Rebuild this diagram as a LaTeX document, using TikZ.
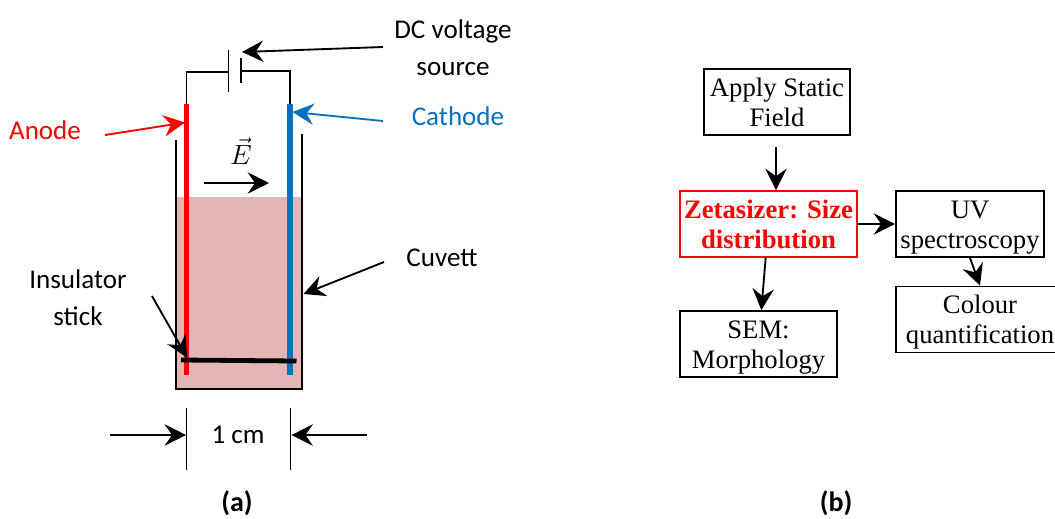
\documentclass[tikz,border=0pt]{standalone}
\usepackage{fontspec}
\setmainfont{Carlito}
\newfontfamily\boxfont{Liberation Serif}
\usetikzlibrary{arrows.meta,calc}
\definecolor{liquid}{HTML}{E3B6B6}
\definecolor{cathblue}{HTML}{0A70C0}
\newcommand{\droprule}[1]{\rule{0pt}{#1}}

\begin{document}
\begin{tikzpicture}[
    x=0.75pt, y=-0.75pt,
    stp/.style={draw, line width=1.4pt, minimum height=49.5pt, inner sep=0pt, align=center, font=\boxfont\fontsize{20}{22.5}\selectfont},
    lbl/.style={align=center, inner sep=0pt, font=\fontsize{20.3}{27.75}\selectfont},
    capt/.style={inner sep=0pt, font=\bfseries\fontsize{21}{25}\selectfont},
    arr/.style={-{Stealth[length=16pt, width=16pt, inset=5.5pt]}, line width=1.4pt},
    wire/.style={line width=1.4pt}
]
\useasboundingbox (0,0) rectangle (1055,518);

% (a) cell
\fill[liquid] (176,197) rectangle (302,389);
\draw[wire] (176,140) -- (176,389) -- (302,389) -- (302,134);

\coordinate (anodetop) at (186.5,104);
\coordinate (anodeend) at (186.5,375);
\coordinate (cathtop) at (290,104);
\coordinate (cathend) at (290,375);
\coordinate (plateL) at (228.5,72);
\coordinate (plateR) at (241,71);

\draw[wire] (anodetop) |- (plateL);
\draw[wire] (cathtop) |- (plateR);
\draw[wire] (228.5,50) -- (228.5,92);
\draw[wire] (241,58) -- (241,83);
\draw[red, line width=3.9pt] (anodetop) -- (anodeend);
\draw[cathblue, line width=3.9pt] (cathtop) -- (cathend);
\draw[line width=3.6pt] (181,360) -- (296.5,361);

\node[lbl] (dc) at (453,47.5) {DC voltage\\source};
\node[lbl, text=red] (anode) at (45,130) {Anode};
\node[lbl, text=cathblue] (cathode) at (458,116) {Cathode};
\node[lbl] (cuvett) at (442,258) {Cuvett};
\node[lbl] (stick) at (78,297.5) {Insulator\\stick};
\node[lbl] (gap) at (238,435) {1 cm};
\node[font=\fontsize{20}{24}\selectfont, inner sep=0pt] (field) at (241,151) {$\vec{E}$};
\node[capt] (capa) at (237,503.5) {(a)};
\node[capt] (capb) at (836,503.5) {(b)};

\draw[arr] (383,47) -- (242,52);
\draw[arr, red] (105,135) -- (185,122.5);
\draw[arr, cathblue] (383,121) -- (292.5,112);
\draw[arr] (204,183) -- (269,183);
\draw[arr] (384,262) -- (303.5,294);
\draw[arr] (152,296) -- (187,357.5);

% 1 cm marks
\draw[wire] (186.5,408) -- (186.5,470);
\draw[wire] (290.5,408) -- (290.5,470);
\draw[arr] (110,435) -- (186,435);
\draw[arr] (367,435) -- (291.5,435);

% (b) flow
\node[stp, minimum width=110pt] (apply) at (777,102) {\droprule{15pt}Apply Static\\Field};
\node[stp, minimum width=132.5pt, draw=red, text=red, font=\boxfont\bfseries\fontsize{20}{22.5}\selectfont] (zeta) at (768.5,224) {Zetasizer: Size\\distribution};
\node[stp, minimum width=111pt] (uv) at (970,224) {\droprule{18pt}UV\\spectroscopy};
\node[stp, minimum width=126pt] (colour) at (980,319.5) {\droprule{18pt}Colour\\quantification};
\node[stp, minimum width=117.5pt] (sem) at (758.5,344) {\droprule{18pt}SEM:\\Morphology};

\draw[arr, shorten <=8pt] (apply.south -| 776,0) -- (zeta.north -| 776,0);
\draw[arr] (zeta.east) -- (uv.west);
\draw[arr] (zeta) -- (sem);
\draw[arr] (uv.south) -- (colour.north);
\end{tikzpicture}
\end{document}
